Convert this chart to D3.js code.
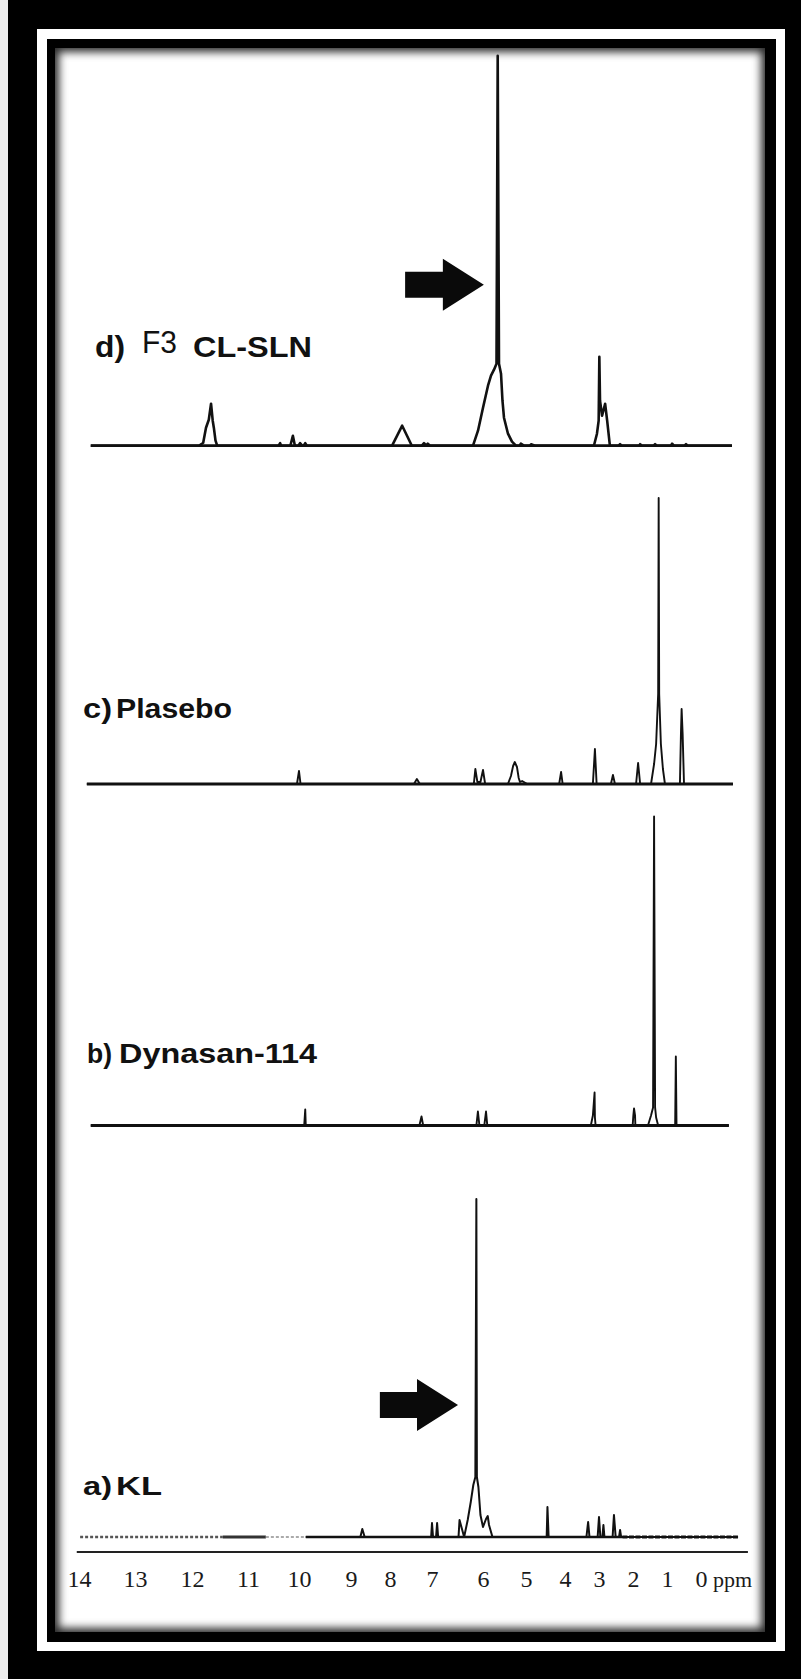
<!DOCTYPE html>
<html><head><meta charset="utf-8">
<script src="https://cdn.jsdelivr.net/npm/d3@7"></script>
<style>html,body{margin:0;padding:0;background:#000;}svg{display:block}</style>
</head><body>
<svg id="chart" width="801" height="1679"></svg>
<script>
// ---------- DATA ----------
const tickValues = [14,13,12,11,10,9,8,7,6,5,4,3,2,1,0];
const tickLabels = ["14","13","12","11","10","9","8","7","6","5","4","3","2","1","0"];
const axisUnit = "ppm";

// spectra as [ppm, intensity]
const specD = [
 [13.79,0],
 [11.875,0],[11.80,3],[11.75,18],[11.70,26],[11.66,42],[11.63,25],[11.61,18],[11.58,5],[11.55,0],
 [10.40,0],[10.37,2.5],[10.35,0],
 [10.17,0],[10.12,10],[10.08,0],
 [10.01,0],[9.98,2.5],[9.94,0],[9.91,0],[9.88,2.5],[9.85,0],
 [7.95,0],[7.71,20],[7.48,0],
 [7.24,0],[7.19,2.5],[7.14,0],[7.10,2],[7.05,0],
 [6.196,0],[6.098,15],[6.0,38],[5.884,60],[5.814,70],[5.744,76],[5.686,82],[5.658,390],[5.628,82],[5.581,72],[5.547,45],[5.512,28],[5.419,12],[5.326,4],[5.233,0],
 [5.15,0],[5.12,2],[5.05,0],[4.90,0],[4.87,1.5],[4.77,0],
 [3.15,0],[3.06,12],[3.01,25],[2.99,89],[2.97,45],[2.91,30],[2.82,42],[2.76,25],[2.68,0],
 [2.42,0],[2.38,1.5],[2.34,0],[1.82,0],[1.79,1.5],[1.75,0],[1.39,0],[1.35,1.5],[1.31,0],
 [0.89,0],[0.85,2],[0.80,0],[0.48,0],[0.44,1.5],[0.40,0],
 [-0.91,0]
];
const specC = [
 [13.86,0],
 [10.04,0],[10.00,13],[9.97,0],
 [7.43,0],[7.36,5],[7.29,0],
 [6.18,0],[6.15,15],[6.11,2],[6.05,2],[6.00,14],[5.95,0],
 [5.42,0],[5.35,8],[5.30,18],[5.26,22],[5.21,17],[5.17,6],[5.14,2],[5.09,3],[4.97,0],
 [4.15,0],[4.10,12],[4.06,0],
 [3.18,0],[3.12,35],[3.07,0],
 [2.65,0],[2.59,9],[2.53,0],
 [1.91,0],[1.85,21],[1.79,0],
 [1.47,0],[1.38,20],[1.32,40],[1.26,90],[1.245,286],[1.23,90],[1.18,40],[1.12,15],[1.06,0],
 [0.62,0],[0.59,50],[0.57,75],[0.54,50],[0.50,0],
 [-0.94,0]
];
const specB = [
 [13.79,0],
 [9.90,0],[9.88,16],[9.87,0],
 [7.30,0],[7.25,9],[7.21,0],
 [6.13,0],[6.10,14],[6.07,0],
 [5.97,0],[5.93,14],[5.90,0],
 [3.24,0],[3.18,10],[3.13,33],[3.12,8],[3.10,0],
 [2.01,0],[1.99,10],[1.97,17],[1.94,10],[1.93,0],
 [1.56,0],[1.47,10],[1.41,18],[1.38,309],[1.35,18],[1.32,8],[1.26,0],
 [0.76,0],[0.74,69],[0.72,0],
 [-0.82,0]
];
const specA = [
 [9.87,0],
 [8.76,0],[8.71,8],[8.65,0],
 [7.02,0],[7.00,14],[6.98,0],
 [6.92,0],[6.90,14],[6.88,0],
 [6.48,0],[6.46,17],[6.37,0],
 [6.30,17],[6.24,35],[6.19,52],[6.15,60],[6.13,338],[6.12,60],[6.09,50],[6.05,22],[6.00,10],[5.93,18],[5.89,21],[5.86,12],[5.78,0],
 [4.47,0],[4.45,30],[4.42,0],
 [3.37,0],[3.32,15],[3.28,0],
 [3.04,0],[3.00,20],[2.96,0],
 [2.90,0],[2.87,12],[2.84,0],
 [2.60,0],[2.56,22],[2.51,0],
 [2.41,0],[2.38,7],[2.35,0],
 [-1.09,0]
];
// baseline pieces of spectrum a) drawn with differing ink: [from ppm, to ppm, kind]
const baseA = [[13.98,11.45,"dotted"],[11.45,10.65,"solid"],[10.65,9.87,"light"],[2.31,-1.09,"heavy"]];

const labelsD = ["d)","F3","CL-SLN"];
const labelsC = ["c)","Plasebo"];
const labelsB = ["b)","Dynasan-114"];
const labelsA = ["a)","KL"];

// arrows: tail ppm, tip ppm, intensity level in the panel
const arrowD = {tail:7.64, tip:5.98, level:161};
const arrowA = {tail:8.26, tip:6.49, level:132};

// ---------- LAYOUT ----------
const tickPx = [79,135,192,248,299,351,390,432,483,526,565,599,633,667,701];
const svg = d3.select("#chart");
const x = d3.scaleLinear().domain(tickValues).range(tickPx);

// frame
svg.append("rect").attr("width",801).attr("height",1679).attr("fill","#000");
svg.append("rect").attr("x",0).attr("y",0).attr("width",8).attr("height",1679).attr("fill","#eeeeee");
svg.append("rect").attr("x",37).attr("y",29).attr("width",748).attr("height",1622).attr("fill","#fff");
svg.append("rect").attr("x",47).attr("y",39).attr("width",729).attr("height",1603).attr("fill","#000");
const defs = svg.append("defs");
defs.append("clipPath").attr("id","inner").append("rect").attr("x",55).attr("y",48).attr("width",710).attr("height",1584);
const f = defs.append("filter").attr("id","soft").attr("filterUnits","userSpaceOnUse")
  .attr("x",0).attr("y",0).attr("width",801).attr("height",1679);
f.append("feGaussianBlur").attr("stdDeviation",4);
const inner = svg.append("g").attr("clip-path","url(#inner)");
inner.append("rect").attr("x",55).attr("y",48).attr("width",710).attr("height",1584).attr("fill","#2a2a2a");
inner.append("rect").attr("x",59).attr("y",52).attr("width",702).attr("height",1576).attr("fill","#fff").attr("filter","url(#soft)");

const ink = "#111";
const line = (y) => d3.line().x(d=>x(d[0])).y(d=>y(d[1]));

function panel(data, base, lw, bw, drawBase=true){
  const y = d3.scaleLinear().domain([0,400]).range([base, base-400]);
  const g = svg.append("g");
  if (drawBase) {
    g.append("line").attr("x1",x(data[0][0])).attr("x2",x(data[data.length-1][0]))
      .attr("y1",y(0)).attr("y2",y(0)).attr("stroke",ink).attr("stroke-width",bw);
  }
  g.append("path").datum(data).attr("d",line(y)).attr("fill","none")
    .attr("stroke",ink).attr("stroke-width",lw).attr("stroke-linejoin","round");
  return {g,y};
}
function arrow(p, a){
  const tx = x(a.tip), bx = x(a.tail), yy = p.y(a.level);
  const hl = 41, hh = 26, bh = 13;
  const pts = [[bx,yy-bh],[tx-hl,yy-bh],[tx-hl,yy-hh],[tx,yy],[tx-hl,yy+hh],[tx-hl,yy+bh],[bx,yy+bh]];
  p.g.append("path").attr("d","M"+pts.map(q=>q.join(",")).join("L")+"Z").attr("fill","#0a0a0a");
}

const pD = panel(specD, 445.7, 2.6, 2.8);
const pC = panel(specC, 784, 1.9, 3);
const pB = panel(specB, 1125.5, 1.9, 3);
const pA = panel(specA, 1537, 2, 2.4, false);
// a) baseline pieces
pA.g.append("line").attr("x1",x(9.87)).attr("x2",x(2.31)).attr("y1",pA.y(0)).attr("y2",pA.y(0))
   .attr("stroke",ink).attr("stroke-width",2.4);
baseA.forEach(([a,b,k])=>{
  const st = {dotted:["#555",2.4,"3,2"], solid:["#333",3,null], light:["#aaa",2.2,"3,2"], heavy:["#111",3.2,"5,1.5"]}[k];
  pA.g.append("line").attr("x1",x(a)).attr("x2",x(b)).attr("y1",pA.y(0)).attr("y2",pA.y(0))
    .attr("stroke",st[0]).attr("stroke-width",st[1]).attr("stroke-dasharray",st[2]);
});
arrow(pD, arrowD);
arrow(pA, arrowA);

// panel labels
function txt(s, xx, yy, size, bold, len){
  const t = svg.append("text").attr("x",xx).attr("y",yy).text(s)
    .attr("font-family","'Liberation Sans', Arial, sans-serif").attr("font-size",size)
    .attr("font-weight",bold?"bold":"normal").attr("fill","#111");
  if (len) t.attr("textLength",len).attr("lengthAdjust","spacingAndGlyphs");
}
txt(labelsD[0],95,357,30,true,30);
txt(labelsD[1],142,352.5,31,false,35);
txt(labelsD[2],193,357,30,true,119);
txt(labelsC[0],83,718,28,true,29);
txt(labelsC[1],116,718,28,true,116);
txt(labelsB[0],87,1063,28,true,25);
txt(labelsB[1],119,1063,28,true,198);
txt(labelsA[0],83,1495,26,true,29);
txt(labelsA[1],116,1495,26,true,46);

// x axis
const axG = svg.append("g").attr("transform","translate(0,1552)");
axG.append("line").attr("x1",x(14.04)).attr("x2",x(-1.38)).attr("stroke","#222").attr("stroke-width",2);
const ax = d3.axisBottom(x).tickValues(tickValues).tickFormat((d,i)=>tickLabels[i]).tickSize(0);
axG.append("g").call(ax).call(g=>g.select(".domain").remove())
  .selectAll("text").attr("y",35).attr("dy",0)
  .attr("font-family","'Liberation Serif','Times New Roman',serif").attr("font-size",24).attr("fill","#1a1a1a");
axG.append("text").attr("x",713).attr("y",35).text(axisUnit)
  .attr("font-family","'Liberation Serif','Times New Roman',serif").attr("font-size",22).attr("fill","#1a1a1a");
</script>
</body></html>
